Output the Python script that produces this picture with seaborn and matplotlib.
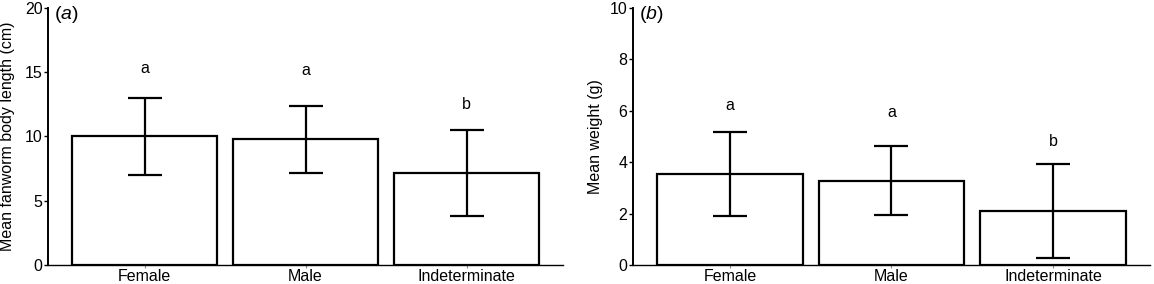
import numpy as np
import pandas as pd
import matplotlib
matplotlib.use("Agg")
import matplotlib.pyplot as plt
import seaborn as sns

# data
groups = ["Female", "Male", "Indeterminate"]
length_mean = [10.0, 9.78, 7.18]
length_err = [3.0, 2.6, 3.35]
length_letters = ["a", "a", "b"]
length_letter_y = [15.3, 15.1, 12.5]

weight_mean = [3.55, 3.28, 2.1]
weight_err = [1.63, 1.34, 1.82]
weight_letters = ["a", "a", "b"]
weight_letter_y = [6.2, 5.95, 4.8]

sns.set_theme(style="ticks")
plt.rcParams["font.family"] = ["Liberation Sans", "DejaVu Sans"]
plt.rcParams["mathtext.fontset"] = "custom"
plt.rcParams["mathtext.rm"] = "Liberation Sans"
plt.rcParams["mathtext.it"] = "Liberation Sans:italic"
plt.rcParams["text.color"] = "black"
plt.rcParams["axes.labelcolor"] = "black"
plt.rcParams["xtick.labelcolor"] = "black"
plt.rcParams["ytick.labelcolor"] = "black"

fs = 11.5

fig = plt.figure(figsize=(11.54, 2.84), dpi=100)
ax1 = fig.add_axes([0.0416, 0.067, 0.4464, 0.905])
ax2 = fig.add_axes([0.5485, 0.067, 0.448, 0.905])

panels = [
    (ax1, length_mean, length_err, length_letters, length_letter_y,
     20, 5, "Mean fanworm body length (cm)", "($\\mathit{a}$)", -0.064),
    (ax2, weight_mean, weight_err, weight_letters, weight_letter_y,
     10, 2, "Mean weight (g)", "($\\mathit{b}$)", -0.058),
]

for ax, means, errs, letters, ly, ymax, step, ylabel, tag, labx in panels:
    df = pd.DataFrame({"group": groups, "value": means})
    sns.barplot(data=df, x="group", y="value", ax=ax, color="white",
                edgecolor="black", linewidth=1.6, width=0.9, errorbar=None)
    ax.errorbar(range(len(groups)), means, yerr=errs, fmt="none",
                ecolor="black", elinewidth=1.6, capsize=12, capthick=1.6)
    for i, (t, y) in enumerate(zip(letters, ly)):
        ax.text(i, y, t, ha="center", va="center", fontsize=fs, color="black")
    ax.set_xlim(-0.6, 2.6)
    ax.set_ylim(0, ymax)
    ax.set_yticks(np.arange(0, ymax + 0.1, step))
    ax.set_xlabel("")
    ax.set_ylabel(ylabel, fontsize=fs, color="black")
    ax.yaxis.set_label_coords(labx, 0.5)
    ax.tick_params(axis="y", labelsize=fs, length=3, width=1, pad=1,
                   color="black", labelcolor="black")
    ax.tick_params(axis="x", labelsize=fs, length=2, width=0.8, pad=1,
                   color="#888888", labelcolor="black")
    for s in ["top", "right"]:
        ax.spines[s].set_visible(False)
    ax.spines["left"].set_linewidth(1.4)
    ax.spines["left"].set_color("black")
    ax.spines["bottom"].set_linewidth(1.0)
    ax.spines["bottom"].set_color("black")
    ax.text(0.012, 0.975, tag, transform=ax.transAxes, ha="left", va="center",
            fontsize=14, color="black")

fig.savefig("out.png", dpi=100)
